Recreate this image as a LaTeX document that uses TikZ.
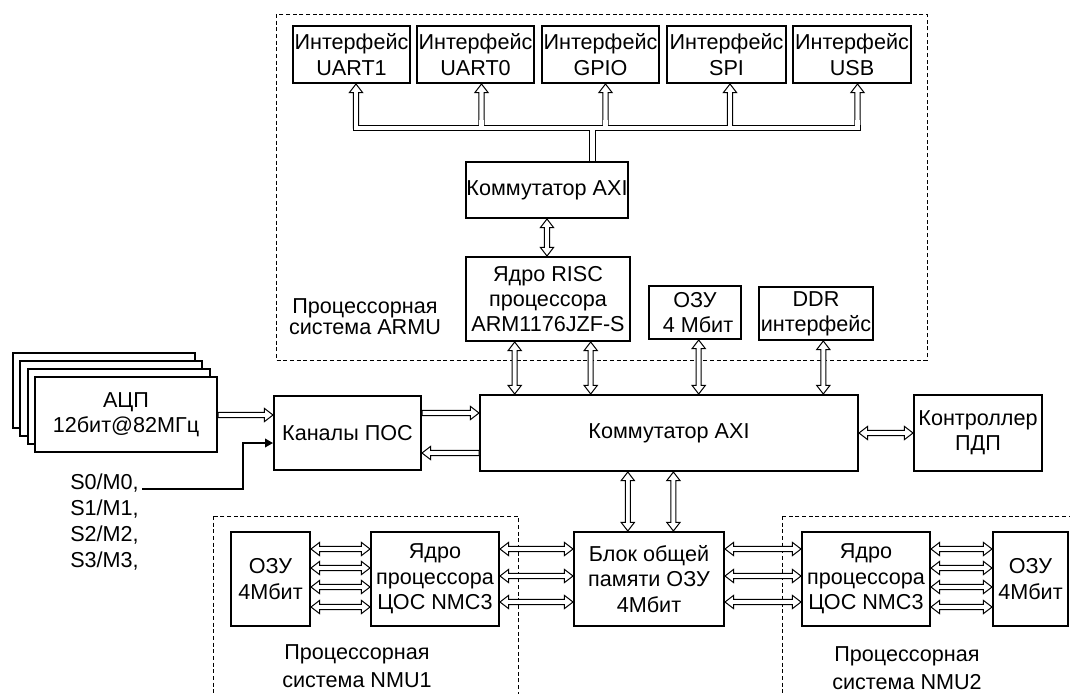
\documentclass[tikz,border=0pt]{standalone}
\usepackage{fontspec}
\setmainfont{Liberation Sans}
\usetikzlibrary{calc,arrows.meta}
\newcommand\dbhl{6.5pt}
\newcommand\dbhw{5pt}
\newcommand\dbsw{1.9pt}
\newcommand\mfs{\fontsize{16.2pt}{19pt}\selectfont}
\newcommand\lfs{\fontsize{16.2pt}{16pt}\selectfont}
\newcommand\nfs{\fontsize{16.2pt}{20.5pt}\selectfont}
\tikzset{
  box/.style={draw, line width=1.5pt, inner sep=0pt, align=center, font=\mfs, fill=white},
  sz/.style 2 args={minimum width=#1*0.75pt, minimum height=#2*0.75pt},
  region/.style={draw, line width=0.75pt, dash pattern=on 3pt off 2pt},
  lbl/.style={inner sep=0pt, align=center, font=\mfs},
  dba/.style={draw=black, fill=white, line width=0.75pt, line join=miter,
    to path={
      -- ($(\tikztostart)!\dbhl!(\tikztotarget)!\dbhw!90:(\tikztotarget)$)
      -- ($(\tikztostart)!\dbhl!(\tikztotarget)!\dbsw!90:(\tikztotarget)$)
      -- ($(\tikztotarget)!\dbhl!(\tikztostart)!\dbsw!-90:(\tikztostart)$)
      -- ($(\tikztotarget)!\dbhl!(\tikztostart)!\dbhw!-90:(\tikztostart)$)
      -- (\tikztotarget)
      -- ($(\tikztotarget)!\dbhl!(\tikztostart)!\dbhw!90:(\tikztostart)$)
      -- ($(\tikztotarget)!\dbhl!(\tikztostart)!\dbsw!90:(\tikztostart)$)
      -- ($(\tikztostart)!\dbhl!(\tikztotarget)!\dbsw!-90:(\tikztotarget)$)
      -- ($(\tikztostart)!\dbhl!(\tikztotarget)!\dbhw!-90:(\tikztotarget)$)
      -- cycle}},
  sga/.style={draw=black, fill=white, line width=0.75pt, line join=miter,
    to path={
      -- ($(\tikztostart)!\dbsw!90:(\tikztotarget)$)
      -- ($(\tikztotarget)!\dbhl!(\tikztostart)!\dbsw!-90:(\tikztostart)$)
      -- ($(\tikztotarget)!\dbhl!(\tikztostart)!\dbhw!-90:(\tikztostart)$)
      -- (\tikztotarget)
      -- ($(\tikztotarget)!\dbhl!(\tikztostart)!\dbhw!90:(\tikztostart)$)
      -- ($(\tikztotarget)!\dbhl!(\tikztostart)!\dbsw!90:(\tikztostart)$)
      -- ($(\tikztostart)!\dbsw!-90:(\tikztotarget)$)
      -- cycle}},
  busout/.style={draw=black, line width=4.55pt},
  busin/.style={draw=white, line width=3.05pt},
  sig/.style={draw=black, line width=1.2pt, -{Triangle[length=6pt,width=6.5pt]}},
}
\begin{document}
\begin{tikzpicture}[x=0.75pt,y=-0.75pt]
\useasboundingbox (0,0) rectangle (1070,693);
\begin{scope}
  \clip (0,0) rectangle (1070,693);
  \draw[region] (276,14) rectangle (927,360);
  \draw[region] (213,516) rectangle (518,720);
  \draw[region] (782,516) rectangle (1100,720);
\end{scope}

% top interfaces
\node[box,sz={117}{57}] (u1) at (351.5,54.5) {Интерфейс\\UART1};
\node[box,sz={117}{57}] (u0) at (475.5,54.5) {Интерфейс\\UART0};
\node[box,sz={117}{57}] (gpio) at (600.5,54.5) {Интерфейс\\GPIO};
\node[box,sz={119}{57}] (spi) at (726.5,54.5) {Интерфейс\\SPI};
\node[box,sz={118}{57}] (usb) at (852,54.5) {Интерфейс\\USB};

\node[box,sz={162}{56}] (ax1) at (547,190) {Коммутатор AXI};
\node[box,sz={164}{84}] (risc) at (548,299) {Ядро RISC\\процессора\\ARM1176JZF-S};
\node[box,sz={92}{53}] (ram) at (695,312.5) {ОЗУ\\\ 4 Мбит};
\node[box,sz={114}{53}] (ddr) at (816,313.5) {DDR\\интерфейс};
\node[lbl, font=\lfs] (larmu) at (365,317) {Процессорная\\система ARMU};

\node[box,sz={378}{76}] (ax) at (669,433) {Коммутатор AXI};
\node[box,sz={128}{76}] (dma) at (978,433) {Контроллер\\ПДП};
\node[box,sz={147}{74}] (kan) at (347.5,433) {Каналы ПОС};

% ADC stack
\node[box,sz={182}{75}] (adc3) at (103.5,390.5) {};
\node[box,sz={182}{75}] (adc2) at (111,398.5) {};
\node[box,sz={182}{75}] (adc1) at (118.5,406.5) {};
\node[box,sz={182}{75}] (adc) at (126,414.5) {АЦП\\12бит@82МГц};

% S lines
\node[lbl, anchor=base west] (s0) at (70,489) {S0/M0,};
\node[lbl, anchor=base west] (s1) at (70,515) {S1/M1,};
\node[lbl, anchor=base west] (s2) at (70,541) {S2/M2,};
\node[lbl, anchor=base west] (s3) at (70,567) {S3/M3,};
\coordinate (sst) at (142,489);
\coordinate (sj) at (243,443);
\draw[sig] (sst) -| (sj) -- (kan.west |- sj);

% bottom
\node[box,sz={79}{94}] (r1) at (270.5,579) {ОЗУ\\4Мбит};
\node[box,sz={128}{94}] (c1) at (435,579) {Ядро\\процессора\\ЦОС NMC3};
\node[box,sz={150}{94}] (shm) at (649,579) {Блок общей\\памяти ОЗУ\\4Мбит};
\node[box,sz={128}{94}] (c2) at (866,579) {Ядро\\процессора\\ЦОС NMC3};
\node[box,sz={75}{94}] (r2) at (1030.5,579) {ОЗУ\\4Мбит};
\node[lbl, font=\nfs] (ln1) at (357,666) {Процессорная\\система NMU1};
\node[lbl, font=\nfs] (ln2) at (907,668) {Процессорная\\система NMU2};

% top bus
\foreach \i/\x in {1/356,2/481.5,3/605.5,4/730,5/857.5} \coordinate (b\i) at (\x,128);
\coordinate (hub) at (592.5,128);
\path[sga] (b1) to (b1 |- u1.south);
\path[sga] (b2) to (b2 |- u0.south);
\path[sga] (b3) to (b3 |- gpio.south);
\path[sga] (b4) to (b4 |- spi.south);
\path[sga] (b5) to (b5 |- usb.south);
\draw[busout, line cap=rect] (b1) -- (b5);
\draw[busout] (hub) -- (hub |- ax1.north);
\draw[busin, line cap=rect] (b1) -- (b5);
\draw[busin] (hub) -- (hub |- ax1.north);
\foreach \i in {1,...,5} \draw[busin] (b\i) -- ++(0,-8);

% vertical arrows
\path[dba] (ax1.south) to (ax1.south |- risc.north);
\path[dba] (risc.south -| 514.7,0) to (ax.north -| 514.7,0);
\path[dba] (risc.south -| 590.7,0) to (ax.north -| 590.7,0);
\path[dba] (ram.south -| 698.7,0) to (ax.north -| 698.7,0);
\path[dba] (ddr.south -| 823.3,0) to (ax.north -| 823.3,0);
\path[dba] (ax.south -| 627.8,0) to (shm.north -| 627.8,0);
\path[dba] (ax.south -| 673.4,0) to (shm.north -| 673.4,0);

% left arrows
\path[sga] (adc.east |- 0,415) to (kan.west |- 0,415);
\path[sga] (kan.east |- 0,413) to (ax.west |- 0,413);
\path[sga] (ax.west |- 0,453) to (kan.east |- 0,453);
\path[dba] (ax.east) to (dma.west);

% bottom arrows
\foreach \y in {549,568,587,607} {
  \path[dba] (r1.east |- 0,\y) to (c1.west |- 0,\y);
  \path[dba] (c2.east |- 0,\y) to (r2.west |- 0,\y);
}
\foreach \y in {549,576,602} {
  \path[dba] (c1.east |- 0,\y) to (shm.west |- 0,\y);
  \path[dba] (shm.east |- 0,\y) to (c2.west |- 0,\y);
}
\end{tikzpicture}
\end{document}
